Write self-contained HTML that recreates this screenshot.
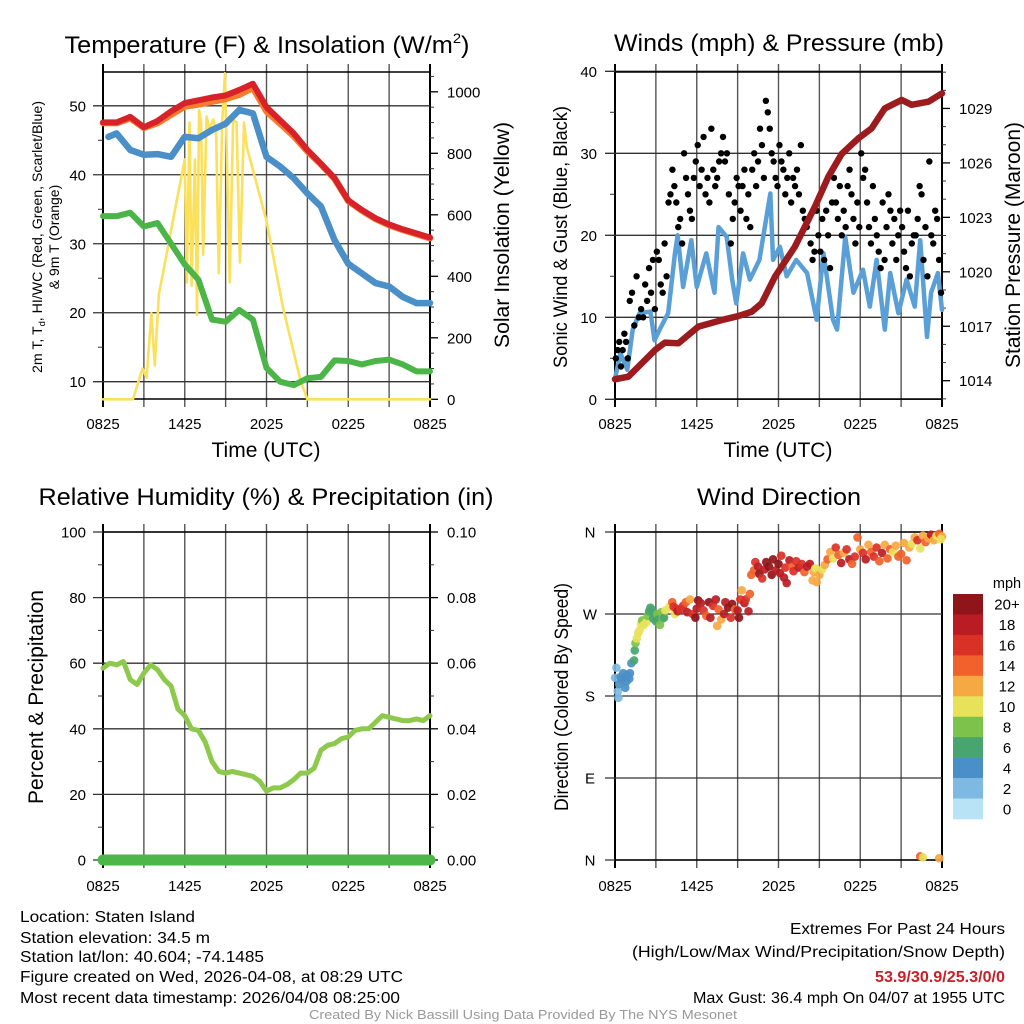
<!DOCTYPE html>
<html><head><meta charset="utf-8"><title>Staten Island Meteogram</title>
<style>
html,body{margin:0;padding:0;background:#fff;}
svg{display:block;font-family:"Liberation Sans",Arial,sans-serif;}
</style></head>
<body>
<svg id="chart" xmlns="http://www.w3.org/2000/svg" width="1024" height="1024" viewBox="0 0 1024 1024">
<rect x="0" y="0" width="1024" height="1024" fill="#fff"/>
<text x="267" y="53" font-size="24" text-anchor="middle" textLength="405" lengthAdjust="spacingAndGlyphs">Temperature (F) &amp; Insolation (W/m<tspan font-size="14" dy="-10">2</tspan><tspan dy="10">)</tspan></text>
<text x="779" y="51" font-size="24" text-anchor="middle" textLength="330" lengthAdjust="spacingAndGlyphs">Winds (mph) &amp; Pressure (mb)</text>
<text x="266" y="505" font-size="24" text-anchor="middle" textLength="455" lengthAdjust="spacingAndGlyphs">Relative Humidity (%) &amp; Precipitation (in)</text>
<text x="779" y="505" font-size="24" text-anchor="middle" textLength="164" lengthAdjust="spacingAndGlyphs">Wind Direction</text>
<text x="266" y="457" font-size="21" text-anchor="middle" textLength="109" lengthAdjust="spacingAndGlyphs">Time (UTC)</text>
<text x="778" y="457" font-size="21" text-anchor="middle" textLength="109" lengthAdjust="spacingAndGlyphs">Time (UTC)</text>
<text transform="translate(42,237) rotate(-90)" font-size="14" text-anchor="middle" textLength="272" lengthAdjust="spacingAndGlyphs">2m T, T<tspan font-size="9" dy="3">d</tspan><tspan dy="-3">, HI/WC (Red, Green, Scarlet/Blue)</tspan></text>
<text transform="translate(59,237) rotate(-90)" font-size="14" text-anchor="middle">&amp; 9m T (Orange)</text>
<text transform="translate(509,235) rotate(-90)" font-size="21" text-anchor="middle" textLength="226" lengthAdjust="spacingAndGlyphs">Solar Insolation (Yellow)</text>
<text transform="translate(567,237) rotate(-90)" font-size="19" text-anchor="middle" textLength="262" lengthAdjust="spacingAndGlyphs">Sonic Wind &amp; Gust (Blue, Black)</text>
<text transform="translate(1020,245) rotate(-90)" font-size="21" text-anchor="middle" textLength="246" lengthAdjust="spacingAndGlyphs">Station Pressure (Maroon)</text>
<text transform="translate(43,697) rotate(-90)" font-size="21" text-anchor="middle" textLength="214" lengthAdjust="spacingAndGlyphs">Percent &amp; Precipitation</text>
<text transform="translate(568,697) rotate(-90)" font-size="19" text-anchor="middle" textLength="228" lengthAdjust="spacingAndGlyphs">Direction (Colored By Speed)</text>
<g font-size="15.5">
<text x="20" y="922" textLength="175" lengthAdjust="spacingAndGlyphs">Location: Staten Island</text>
<text x="20" y="943" textLength="190" lengthAdjust="spacingAndGlyphs">Station elevation: 34.5 m</text>
<text x="20" y="962" textLength="244" lengthAdjust="spacingAndGlyphs">Station lat/lon: 40.604; -74.1485</text>
<text x="20" y="982" textLength="383" lengthAdjust="spacingAndGlyphs">Figure created on Wed, 2026-04-08, at 08:29 UTC</text>
<text x="20" y="1003" textLength="380" lengthAdjust="spacingAndGlyphs">Most recent data timestamp: 2026/04/08 08:25:00</text>
</g>
<g font-size="15.5" text-anchor="end">
<text x="1005" y="934" textLength="215" lengthAdjust="spacingAndGlyphs">Extremes For Past 24 Hours</text>
<text x="1005" y="957" textLength="373" lengthAdjust="spacingAndGlyphs">(High/Low/Max Wind/Precipitation/Snow Depth)</text>
<text x="1005" y="982" font-weight="bold" fill="#c8202a" textLength="130" lengthAdjust="spacingAndGlyphs">53.9/30.9/25.3/0/0</text>
<text x="1005" y="1003" textLength="312" lengthAdjust="spacingAndGlyphs">Max Gust: 36.4 mph On 04/07 at 1955 UTC</text>
</g>
<text x="523" y="1019" font-size="12.5" fill="#999" text-anchor="middle" textLength="428" lengthAdjust="spacingAndGlyphs">Created By Nick Bassill Using Data Provided By The NYS Mesonet</text>
</svg>
<script>
// ---------- DATA ----------
const timeTickHours = [0, 6, 12, 18, 24];
const timeTickLabels = ['0825', '1425', '2025', '0225', '0825'];

// Panel 1: temperatures (F), hourly
const tempHours = [0,1,2,3,4,5,6,7,8,9,10,11,12,13,14,15,16,17,18,19,20,21,22,23,24];
const airTemp = [47.6,47.6,48.4,46.9,47.8,49.2,50.4,50.8,51.2,51.5,52.3,53.2,49.8,47.9,46,43.6,41.6,39.5,36.3,34.9,33.7,32.8,32.1,31.5,30.9];
const temp9m = [47.5,47.5,48.2,46.8,47.5,48.7,49.9,50.2,50.6,51.0,51.6,52.6,49.2,47.4,45.6,43.4,41.5,39.4,36.2,34.8,33.6,32.7,32.0,31.4,30.8];
const windChillHours = [0.4,1,2,3,4,5,6,7,8,9,10,11,12,13,14,15,16,17,18,19,20,21,22,23,24];
const windChill = [45.5,46,43.6,42.9,43,42.6,45.5,45.3,46.5,47.4,49.4,48.9,42.6,41.2,39.5,37.3,35.4,30.5,27.1,25.7,24.3,23.8,22.3,21.4,21.4];
const dewPoint = [34,34,34.5,32.5,33,30,27,24.8,19,18.7,20.4,19,12,10,9.5,10.5,10.7,13.1,13,12.5,13,13.2,12.5,11.5,11.5];
const insolHours = [0,2.2,2.9,3.2,3.55,3.8,4.1,5.3,6.0,6.15,6.35,6.5,6.75,6.9,7.05,7.2,7.35,7.6,7.8,8.1,8.3,8.5,8.75,8.95,9.3,9.55,9.8,10.05,10.35,10.55,10.8,12.0,13.2,14.5,15.0,24];
const insolVals = [0,0,100,70,280,110,340,620,780,380,900,370,780,275,940,900,470,920,880,910,870,410,900,1060,380,910,900,445,900,820,780,580,300,60,0,0];
const tempTicks = [10,20,30,40,50];
const insolTicks = [0,200,400,600,800,1000];

// Panel 2: winds (mph) and pressure (mb)
const windHours = [0,0.4,0.9,1.3,1.8,2.6,2.9,3.4,3.9,4.4,4.6,5.0,5.6,6.0,6.7,7.3,7.6,8.2,8.6,8.9,9.4,9.9,10.6,11.4,11.6,12.1,12.6,13.3,14.1,14.8,15.3,16.0,16.3,16.9,17.5,18.2,18.7,19.2,19.8,20.2,20.8,21.4,22.0,22.4,22.9,23.2,23.7,24];
const windVals = [2.5,5.6,3.6,8.5,10.5,10.7,7.2,8.9,10.5,17.8,20,13.7,19.4,13.7,17.8,13,21,19.8,14.6,11.7,17.8,14.6,17,25.1,17,18.6,15,17,15.4,9.7,17.8,9.7,8.5,19.8,13,15.8,11.3,17,8.5,15.4,10.5,14.6,11.3,19.4,7.6,13,15.4,10.9];
const gustByHour = [
 [5,6,7,4,6,8,7,5],[12,13,9,15,10,11],[10,14,12,16,13,17,11],[18,17,14,13,19,15,24],
 [25,28,26,24,21,22,19],[30,27,25,23,22,27,29],[31,26,28,32,25,27,24],[33,28,26,27,29,30,32],
 [29,30,25,19,22,24,27],[26,23,26,28,22,25,21],[28,30,26,29,33,31,27],[36.4,35,33,30,29,27,26],
 [31,29,28,25,27,30,24],[27,26,28,25,31,23,22],[21,22,19,17,18,23,20],[18,22,17,23,20,16,24],
 [27,24,22,26,20,23,21],[26,28,25,22,19,24,21],[30,27,28,24,21,19,26],[22,20,18,16,24,17,21],
 [25,23,19,22,17,20,23],[21,18,16,23,15,19,20],[20,22,26,25,17,21,15],[29,20,19,23,22,17,13]
];
const presHours = [0,0.98,2.94,3.67,4.65,6.12,7.83,9.05,10.03,10.76,11.74,13.2,14.68,15.66,16.64,17.86,18.83,19.8,21.04,21.77,23.0,24];
const presVals = [1014.08,1014.22,1015.69,1016.1,1016.06,1016.98,1017.34,1017.56,1017.8,1018.26,1019.73,1021.38,1023.6,1025.24,1026.5,1027.35,1027.9,1029.0,1029.47,1029.2,1029.37,1029.83];
const windTicks = [0,10,20,30,40];
const presTicks = [1014,1017,1020,1023,1026,1029];

// Panel 3: relative humidity (%) and precipitation (in)
const rhHours = [0,0.5,1,1.5,2,2.5,3,3.5,4,4.5,5,5.5,6,6.5,7,7.5,8,8.5,9,9.5,10,10.5,11,11.5,12,12.5,13,13.5,14,14.5,15,15.5,16,16.5,17,17.5,18,18.5,19,19.5,20,20.5,21,21.5,22,22.5,23,23.5,24];
const rhVals = [58.5,60,59.5,60.5,55,53.5,57,59.5,58,55,53,46,44,40,39.5,36,30,27,26.5,27,26.5,26,25.5,24,21,22,22,23,24.5,26.5,26.5,28,33.5,35,35.5,37,37.5,39.5,40,40,42,44,43.5,43,42.5,42.5,43,42.5,44];
const precipHours = [0,24];
const precipVals = [0,0];
const rhTicks = [0,20,40,60,80,100];
const precipTicks = [0,0.02,0.04,0.06,0.08,0.10];

// Panel 4: wind direction (deg) coloured by speed (mph)
const dirHours = [0,0.1,0.2,0.25,0.3,0.4,0.5,0.6,0.7,0.75,0.85,0.9,1.05,1.1,1.2,1.4,1.45,1.5,1.6,1.7,1.8,1.9,2.0,2.1,2.3,2.4,2.5,2.6,2.7,2.8,2.9,3.0,3.1,3.2,3.3,3.4,3.5,3.6,3.7,4.0,4.2,4.4,4.5,
 4.3,4.6,4.8,5.0,5.2,5.3,5.5,5.7,5.9,6.0,6.1,6.3,6.5,6.7,6.9,7.0,7.2,7.4,7.5,7.6,7.8,8.0,8.1,8.3,8.5,8.6,8.8,9.0,9.1,9.2,9.3,9.5,9.6,9.8,9.9,
 10.0,10.2,10.3,10.5,10.6,10.8,11.0,11.1,11.3,11.5,11.6,11.8,12.0,12.1,12.2,12.4,12.5,12.6,12.8,13.0,13.1,13.3,13.5,13.7,13.9,14.1,14.3,14.5,14.6,14.7,14.8,15.0,15.2,15.4,15.6,
 15.8,16.0,16.2,16.4,16.6,16.8,17.0,17.2,17.4,17.6,17.8,18.0,18.2,18.4,18.6,18.8,19.0,19.2,19.4,19.6,19.8,20.0,20.2,20.4,20.6,20.8,21.0,21.2,21.4,21.6,21.8,22.0,22.2,22.4,22.6,22.8,23.0,23.2,23.4,23.6,23.8,24.0,23.9,
 22.4,22.6,23.8];
const dirDeg = [200,211,185,178,193,201,198,205,201,189,196,203,199,205,216,219,230,238,243,249,252,259,263,258,261,268,273,277,275,265,270,262,270,264,258,272,265,266,274,278,283,270,276,
 278,273,275,279,283,272,286,270,266,276,285,282,274,268,283,266,279,286,257,275,264,270,283,277,266,281,275,274,266,286,296,282,286,273,292,
 313,318,327,322,314,309,319,327,322,313,330,318,325,315,334,310,321,304,329,322,317,328,321,325,316,322,325,307,316,320,305,313,319,324,330,
 338,331,343,335,326,337,341,330,325,333,354,341,337,330,346,338,333,343,328,337,346,331,341,338,345,333,336,348,329,343,347,354,351,342,356,349,353,357,351,356,358,355,352,
 4,3,2];
const dirSpeed = [3,2,3,2,4,4,4,4,4,4,4,4,4,4,4,6,6,8,10,10,10,10,9,10,10,8,6,6,7,6,7,7,8,7,8,9,8,7,10,10,14,10,16,
 16,18,16,16,14,18,12,16,20,18,20,18,16,14,20,18,16,18,12,14,12,18,18,20,16,20,14,18,20,16,12,18,16,18,14,
 14,14,16,18,20,16,18,20,20,20,20,18,20,18,16,18,16,18,18,14,16,16,18,16,14,18,18,12,12,10,12,12,10,12,14,
 12,10,16,14,18,12,16,18,14,16,14,12,16,18,12,14,16,16,14,18,12,14,14,10,12,14,14,12,14,12,10,12,16,10,12,14,12,18,12,10,14,12,10,
 14,10,12];
const speedBins = ['0','2','4','6','8','10','12','14','16','18','20+'];
const speedColors = ['#b8e3f7','#7db9e2','#4a8fc7','#48a56f','#7cc24b','#e8e25a','#f6a843','#f0612b','#da3127','#b91c23','#8f151a'];
const dirTicks = [0,90,180,270,360];
const dirTickLabels = ['N','E','S','W','N'];

// ---------- DRAWING ----------
const NS = 'http://www.w3.org/2000/svg';
const svg = document.getElementById('chart');
function mk(tag, attrs, parent) {
  const e = document.createElementNS(NS, tag);
  for (const k in attrs) e.setAttribute(k, attrs[k]);
  (parent || svg).appendChild(e);
  return e;
}
const P1 = {x0:103, x1:430, y0:72, y1:399};
const P2 = {x0:615, x1:942, y0:72, y1:399};
const P3 = {x0:103, x1:430, y0:532, y1:860};
const P4 = {x0:615, x1:942, y0:532, y1:860};
function xAt(p, h) { return p.x0 + (p.x1 - p.x0) * h / 24; }
const yTemp = v => 381.7 - (v - 10) * 6.8975;
const yIns = v => 399.3 - v * 0.3075;
const yWind = v => 399.3 - v * 8.2;
const yPres = v => 380.7 - (v - 1014) * 18.15;
const yRH = v => 860 - v * 3.28;
const yPrecip = v => 860 - v * 3280;
const yDir = v => 860 - v * 0.9111;

function grid(p, name, hVals, yFn) {
  const g = mk('g', {});
  
  
  for (let h = 0; h <= 24; h += 3) {
    const x = xAt(p, h);
    const edge = (h === 0 || h === 24);
    const l = mk('line', {x1:x, x2:x, y1:p.y0 - 8, y2:p.y1 + 8, stroke: edge ? '#000' : '#555', 'stroke-width': edge ? 2 : 1.4}, g);
    
    
  }
  hVals.forEach(v => {
    const y = yFn(v);
    const l = mk('line', {x1:p.x0 - 10, x2:p.x1, y1:y, y2:y, stroke:'#333', 'stroke-width':1.3}, g);
    
    
  });
  const t = mk('line', {x1:p.x0, x2:p.x1, y1:p.y0, y2:p.y0, stroke:'#000', 'stroke-width':1.6}, g);
  
  
  const b = mk('line', {x1:p.x0, x2:p.x1, y1:p.y1, y2:p.y1, stroke:'#000', 'stroke-width':1.6}, g);
  
  
  timeTickHours.forEach((h, i) => {
    const tx = mk('text', {x:xAt(p, h), y:p.y1 + (p.y1 > 800 ? 31 : 30), 'font-size':15, 'text-anchor':'middle'}, g);
    tx.textContent = timeTickLabels[i];
    
    
  });
}
function leftLabels(p, name, vals, yFn, fmt, xr) {
  vals.forEach(v => {
    const t = mk('text', {x:xr, y:yFn(v) + 5.5, 'font-size':15, 'text-anchor':'end'});
    t.textContent = fmt(v);
    
    
  });
}
function minorLeft(p, name, vals, yFn) {
  vals.forEach(v => {
    const y = yFn(v);
    const l = mk('line', {x1:p.x0 - 5, x2:p.x0, y1:y, y2:y, stroke:'#333', 'stroke-width':1});
    
    
  });
}
function rightAxis(p, name, majors, minors, yFn, fmt) {
  minors.forEach(v => {
    const y = yFn(v);
    if (y < p.y0 - 1 || y > p.y1 + 1) return;
    const l = mk('line', {x1:p.x1, x2:p.x1 + 4, y1:y, y2:y, stroke:'#333', 'stroke-width':1});
    
    
  });
  majors.forEach(v => {
    const y = yFn(v);
    const l = mk('line', {x1:p.x1, x2:p.x1 + 8, y1:y, y2:y, stroke:'#000', 'stroke-width':1.3});
    
    
    const t = mk('text', {x:p.x1 + 17, y:y + 5.5, 'font-size':15});
    t.textContent = fmt(v);
    
    
  });
}
function linePath(p, hours, vals, yFn, color, width, name) {
  let d = '';
  hours.forEach((h, i) => { d += (i ? 'L' : 'M') + xAt(p, h).toFixed(2) + ',' + yFn(vals[i]).toFixed(2); });
  const e = mk('path', {d:d, fill:'none', stroke:color, 'stroke-width':width, 'stroke-linejoin':'round', 'stroke-linecap':'round'});
  
  
  return e;
}

// Panel 1
grid(P1, 'temperature', tempTicks, yTemp);
leftLabels(P1, 'temperature', tempTicks, yTemp, v => String(v), 86);
minorLeft(P1, 'temperature', [15,25,35,45], yTemp);
rightAxis(P1, 'insolation', insolTicks, [50,100,150,250,300,350,450,500,550,650,700,750,850,900,950,1050], yIns, v => String(v));
linePath(P1, insolHours, insolVals, yIns, '#fbe05c', 2.6, 'solar-insolation-line');
linePath(P1, tempHours, dewPoint, yTemp, '#4bb548', 6, 'dewpoint-line');
linePath(P1, windChillHours, windChill, yTemp, '#4a8fc8', 6.5, 'wind-chill-line');
linePath(P1, tempHours, temp9m, yTemp, '#f47c2c', 6.5, 'temperature-9m-line');
linePath(P1, tempHours, airTemp, yTemp, '#d7222a', 6, 'temperature-2m-line');

// Panel 2
grid(P2, 'winds', windTicks, yWind);
leftLabels(P2, 'winds', windTicks, yWind, v => String(v), 597);
minorLeft(P2, 'winds', [5,15,25,35], yWind);
rightAxis(P2, 'pressure', presTicks, [1013,1015,1016,1018,1019,1021,1022,1024,1025,1027,1028,1030,1031], yPres, v => String(v));
linePath(P2, windHours, windVals, yWind, '#5a9fd6', 4.5, 'sustained-wind-line');
const gustG = mk('g', {fill:'#000'});


gustByHour.forEach((arr, hr) => {
  arr.forEach((v, k) => {
    const h = hr + (k + 0.5) / arr.length;
    const c = mk('circle', {cx:xAt(P2, h), cy:yWind(v), r:3.2}, gustG);
    
    
  });
});
linePath(P2, presHours, presVals, yPres, '#9b1b1e', 6.5, 'station-pressure-line');

// Panel 3
grid(P3, 'humidity', rhTicks, yRH);
leftLabels(P3, 'humidity', rhTicks, yRH, v => String(v), 86);
minorLeft(P3, 'humidity', [10,30,50,70,90], yRH);
rightAxis(P3, 'precipitation', precipTicks, [0.01,0.03,0.05,0.07,0.09], yPrecip, v => v.toFixed(2));
linePath(P3, rhHours, rhVals, yRH, '#8dc94c', 5, 'relative-humidity-line');
linePath(P3, precipHours, precipVals, yPrecip, '#4cb649', 11, 'precipitation-line');

// Panel 4
grid(P4, 'direction', dirTicks, yDir);
dirTicks.forEach((v, i) => {
  const t = mk('text', {x:590, y:yDir(v) + 5.5, 'font-size':15, 'text-anchor':'middle'});
  t.textContent = dirTickLabels[i];
  
  
});
const dirG = mk('g', {'fill-opacity':0.92});


dirHours.forEach((h, i) => {
  const bin = Math.min(10, Math.floor(dirSpeed[i] / 2));
  const c = mk('circle', {cx:xAt(P4, h), cy:yDir(dirDeg[i]), r:4.3, fill:speedColors[bin]}, dirG);
  
  
});

// Colour bar
const cb = mk('g', {});


const cbTop = 594, cbH = (819 - 594) / speedBins.length;
const unit = mk('text', {x:1007, y:588, 'font-size':14.5, 'text-anchor':'middle'}, cb);
unit.textContent = 'mph';


for (let i = 0; i < speedBins.length; i++) {
  const idx = speedBins.length - 1 - i;
  const r = mk('rect', {x:953, y:cbTop + i * cbH, width:30, height:cbH + 0.3, fill:speedColors[idx]}, cb);
  
  
  const t = mk('text', {x:1007, y:cbTop + i * cbH + cbH / 2 + 5.5, 'font-size':15, 'text-anchor':'middle'}, cb);
  t.textContent = speedBins[idx];
  
  
}
</script>
</body></html>
